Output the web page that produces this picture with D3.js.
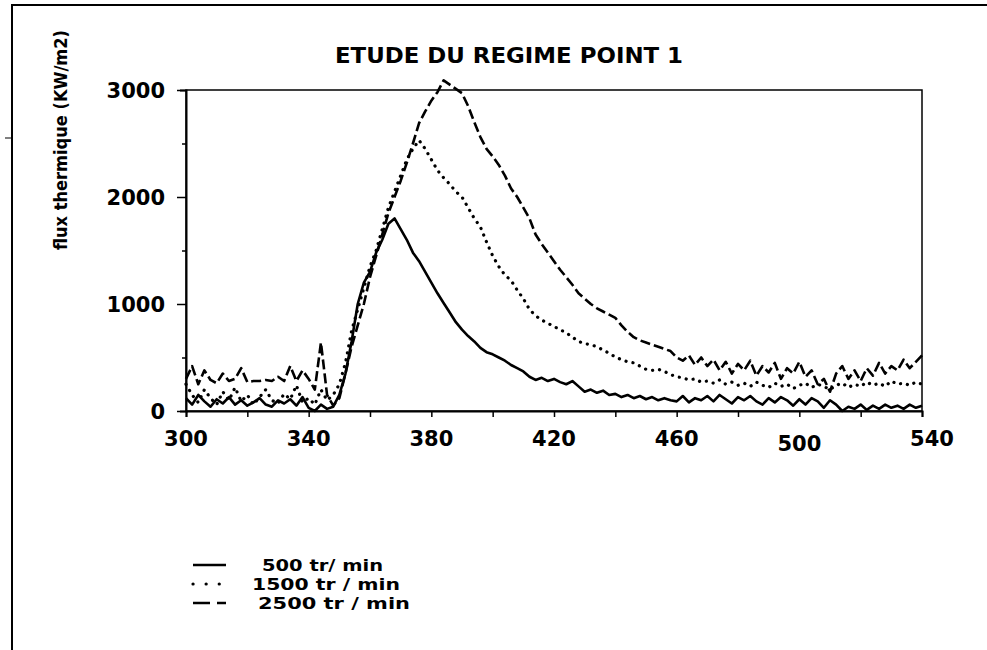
<!DOCTYPE html>
<html>
<head>
<meta charset="utf-8">
<script src="https://cdn.jsdelivr.net/npm/d3@7"></script>
<style>
  body { margin: 0; background: #fff; }
  svg text { font-family: "DejaVu Sans", "Liberation Sans", sans-serif; font-weight: bold; fill: #000; }
</style>
</head>
<body>
<svg id="chart" width="987" height="650"></svg>
<script>
// crank angle, every 2 degrees
const angles = d3.range(300, 541, 2);

const rpm500 = [
  120, 60, 150, 90, 40, 110, 70, 130, 60, 100, 50, 80, 120, 60, 40, 100, 70, 110, 50, 130,
  30, 0, 60, 20, 40, 150, 350, 650, 1000, 1200, 1300, 1480, 1600, 1750, 1800, 1700, 1600, 1480, 1400, 1300,
  1200, 1100, 1010, 920, 830, 760, 700, 650, 590, 550, 530, 500, 470, 430, 400, 370, 320, 290, 310, 280,
  300, 270, 250, 280, 230, 180, 200, 170, 190, 150, 160, 130, 150, 120, 140, 110, 130, 100, 120, 100,
  90, 140, 80, 120, 100, 140, 90, 150, 110, 70, 130, 100, 140, 90, 60, 120, 80, 130, 100, 50,
  110, 60, 120, 90, 30, 100, 60, 0, 40, 20, 60, 10, 50, 20, 60, 30, 50, 20, 60, 30,
  50
];

const rpm1500 = [
  250, 150, 80, 200, 120, 60, 180, 100, 220, 90, 150, 60, 130, 200, 100, 70, 160, 110, 240, 80,
  120, 60, 200, 100, 150, 250, 450, 750, 950, 1150, 1350, 1500, 1700, 1900, 2050, 2200, 2350, 2450, 2530, 2450,
  2350, 2250, 2180, 2120, 2050, 2000, 1900, 1800, 1720, 1580, 1450, 1350, 1270, 1220, 1130, 1050, 950, 890, 850, 820,
  790, 760, 730, 690, 650, 630, 620, 600, 570, 540, 505, 480, 460, 450, 420, 390, 380, 390, 370, 340,
  320, 310, 290, 300, 270, 280, 260, 290, 250, 270, 240, 260, 230, 270, 240, 220, 260, 230, 250, 210,
  240, 260, 220, 250, 230, 200, 240, 260, 220, 250, 230, 270, 240, 260, 230, 280, 250, 260, 240, 270,
  250
];

const rpm2500 = [
  300, 420, 250, 380, 290, 260, 350, 280, 300, 400, 270, 280, 280, 290, 280, 320, 280, 420, 280, 380,
  300, 200, 640, 150, 50, 120, 350, 600, 800, 1000, 1250, 1450, 1650, 1850, 2000, 2150, 2320, 2500, 2690, 2800,
  2900, 2980, 3090, 3050, 3010, 2970, 2850, 2700, 2560, 2450, 2380, 2300, 2200, 2080, 2000, 1900, 1800, 1650, 1560, 1480,
  1400, 1320, 1250, 1180, 1100, 1050, 1000, 960, 930, 900, 870, 800, 740, 690, 660, 640, 620, 600, 580, 560,
  500, 470, 520, 430, 500, 420, 480, 380, 460, 350, 440, 380, 470, 330, 420, 360, 450, 300, 400, 350,
  460, 320, 380, 250, 300, 180, 350, 420, 300, 380, 280, 400, 330, 450, 350, 420, 380, 480, 400, 460,
  520
];

const series = [
  { name: "500 tr/ min", values: rpm500, dash: null, width: 2.6, cap: "butt" },
  { name: "1500 tr / min", values: rpm1500, dash: "0.1,7", width: 3.2, cap: "round" },
  { name: "2500 tr / min", values: rpm2500, dash: "10,4", width: 2.6, cap: "butt" }
];

const xTicks = [300, 340, 380, 420, 460, 500, 540];
const yTicks = [0, 1000, 2000, 3000];

const svg = d3.select("#chart");

// outer frame (runs off the page on the right and bottom)
svg.append("rect")
  .attr("x", 12).attr("y", 5).attr("width", 1000).attr("height", 700)
  .attr("fill", "none").attr("stroke", "#000").attr("stroke-width", 2);
svg.append("line")
  .attr("x1", 5).attr("x2", 12).attr("y1", 138).attr("y2", 138)
  .attr("stroke", "#000").attr("stroke-width", 1);

const plotL = 186, plotR = 922, plotT = 90, plotB = 411;
const x = d3.scaleLinear().domain([300, 540]).range([plotL, plotR]);
const y = d3.scaleLinear().domain([0, 3000]).range([plotB, plotT]);

// plot box
svg.append("rect")
  .attr("x", plotL).attr("y", plotT).attr("width", plotR - plotL).attr("height", plotB - plotT)
  .attr("fill", "none").attr("stroke", "#000").attr("stroke-width", 1.5);

// axes
const xAxis = svg.append("g")
  .attr("transform", `translate(0,${plotB})`)
  .call(d3.axisBottom(x).tickValues(d3.range(300, 541, 20)).tickSize(6).tickFormat(""));
const yAxis = svg.append("g")
  .attr("transform", `translate(${plotL},0)`)
  .call(d3.axisLeft(y).tickValues(d3.range(0, 3001, 500)).tickSize(6).tickFormat(""));
yAxis.selectAll(".tick line").attr("x2", d => d % 1000 === 0 ? -9 : -4);
[xAxis, yAxis].forEach(g => {
  g.select(".domain").attr("stroke-width", 2);
  g.selectAll(".tick line").attr("stroke-width", 1.5);
});

svg.append("g").selectAll("text")
  .data(xTicks)
  .join("text")
  .attr("x", d => x(d) + (d === 540 ? 10 : 0))
  .attr("y", d => d === 500 ? 451 : 446)
  .attr("text-anchor", "middle")
  .attr("font-size", 21)
  .text(d => d);

svg.append("g").selectAll("text")
  .data(yTicks)
  .join("text")
  .attr("x", 165)
  .attr("y", d => y(d) + 8)
  .attr("text-anchor", "end")
  .attr("font-size", 21)
  .text(d => d);

// title
svg.append("text")
  .attr("x", 509).attr("y", 63)
  .attr("text-anchor", "middle")
  .attr("font-size", 21)
  .attr("textLength", 348).attr("lengthAdjust", "spacingAndGlyphs")
  .text("ETUDE DU  REGIME POINT 1");

// y axis label
svg.append("text")
  .attr("transform", "translate(67,140) rotate(-90)")
  .attr("text-anchor", "middle")
  .attr("font-size", 18)
  .attr("textLength", 220).attr("lengthAdjust", "spacingAndGlyphs")
  .text("flux thermique (KW/m2)");

// curves
const line = d3.line()
  .x((d, i) => x(angles[i]))
  .y(d => y(d));

svg.append("g").selectAll("path")
  .data(series)
  .join("path")
  .attr("d", d => line(d.values))
  .attr("fill", "none")
  .attr("stroke", "#000")
  .attr("stroke-width", d => d.width)
  .attr("stroke-linecap", d => d.cap)
  .attr("stroke-linejoin", "round")
  .attr("stroke-dasharray", d => d.dash);

// legend
const legendY = [565, 584, 603];
const legendTextX = [262, 252, 258];
const legendTextW = [121, 148, 152];
const legend = svg.append("g").selectAll("g")
  .data(series)
  .join("g")
  .attr("transform", (d, i) => `translate(0,${legendY[i]})`);
legend.append("line")
  .attr("x1", 193).attr("x2", 226)
  .attr("stroke", "#000")
  .attr("stroke-width", d => d.width)
  .attr("stroke-linecap", d => d.cap)
  .attr("stroke-dasharray", (d, i) => i === 2 ? "17,7" : d.dash === null ? null : "0.1,13");
legend.append("text")
  .attr("x", (d, i) => legendTextX[i])
  .attr("y", 6)
  .attr("font-size", 16.5)
  .attr("textLength", (d, i) => legendTextW[i]).attr("lengthAdjust", "spacingAndGlyphs")
  .text(d => d.name);
</script>
</body>
</html>
